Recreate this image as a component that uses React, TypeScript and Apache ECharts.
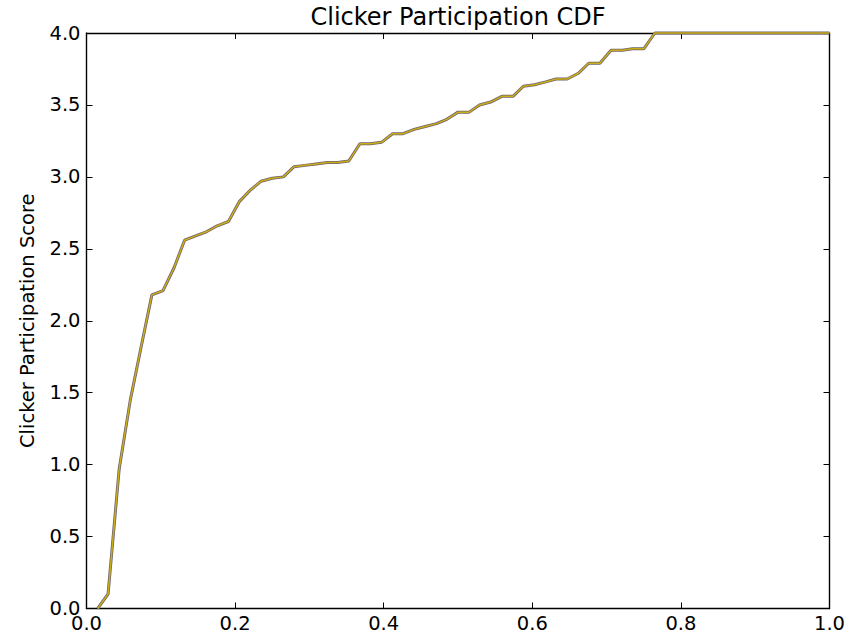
import React, { useEffect, useRef } from "react";
import * as echarts from "echarts";

const TITLE = "Clicker Participation CDF";
const Y_NAME = "Clicker Participation Score";

// fraction of students (x) and participation score (y)
const xValues = [
  0.015, 0.029, 0.044, 0.059, 0.074, 0.088, 0.103, 0.118, 0.132, 0.147,
  0.162, 0.176, 0.191, 0.206, 0.221, 0.235, 0.25, 0.265, 0.279, 0.294,
  0.309, 0.324, 0.338, 0.353, 0.368, 0.382, 0.397, 0.412, 0.426, 0.441,
  0.456, 0.471, 0.485, 0.5, 0.515, 0.529, 0.544, 0.559, 0.574, 0.588,
  0.603, 0.618, 0.632, 0.647, 0.662, 0.676, 0.691, 0.706, 0.721, 0.735,
  0.75, 0.765, 1.0,
];
const yValues = [
  0.0, 0.1, 0.97, 1.45, 1.83, 2.18, 2.21, 2.37, 2.56, 2.59,
  2.62, 2.66, 2.69, 2.83, 2.91, 2.97, 2.99, 3.0, 3.07, 3.08,
  3.09, 3.1, 3.1, 3.11, 3.23, 3.23, 3.24, 3.3, 3.3, 3.33,
  3.35, 3.37, 3.4, 3.45, 3.45, 3.5, 3.52, 3.56, 3.56, 3.63,
  3.64, 3.66, 3.68, 3.68, 3.72, 3.79, 3.79, 3.88, 3.88, 3.89,
  3.89, 4.0, 4.0,
];

const FONT = "DejaVu Sans";

export default function App() {
  const ref = useRef<HTMLDivElement>(null);
  useEffect(() => {
    if (!ref.current) return;
    const chart = echarts.init(ref.current, undefined, { renderer: "svg" });
    const data = xValues.map((x, i) => [x, yValues[i]]);
    const axisLine = { show: true, onZero: false, lineStyle: { color: "#000", width: 1.4 } };
    const axisTick = { show: true, inside: true, length: 6, lineStyle: { color: "#000", width: 1 } };
    const label = {
      color: "#000",
      fontSize: 19.5,
      fontFamily: FONT,
      formatter: (v: number) => v.toFixed(1),
      showMinLabel: true,
      showMaxLabel: true,
    };
    chart.setOption({
      animation: false,
      backgroundColor: "#fff",
      textStyle: { fontFamily: FONT },
      title: {
        text: TITLE,
        left: 458,
        top: 5,
        padding: 0,
        textAlign: "center",
        textStyle: { fontFamily: FONT, fontSize: 24, fontWeight: "normal", color: "#000" },
      },
      grid: { left: 86.5, right: 34.5, top: 33, bottom: 28.5, show: false },
      xAxis: [
        {
          type: "value", min: 0, max: 1, interval: 0.2, position: "bottom",
          axisLine, axisTick, splitLine: { show: false },
          axisLabel: { ...label, margin: 5 },
        },
        {
          type: "value", min: 0, max: 1, interval: 0.2, position: "top",
          axisLine, axisTick, splitLine: { show: false },
          axisLabel: { show: false },
        },
      ],
      yAxis: [
        {
          type: "value", min: 0, max: 4, interval: 0.5, position: "left",
          axisLine, axisTick, splitLine: { show: false },
          axisLabel: { ...label, margin: 6 },
          name: Y_NAME,
          nameLocation: "middle",
          nameGap: 49,
          nameTextStyle: { fontFamily: FONT, fontSize: 19.5, color: "#000" },
        },
        {
          type: "value", min: 0, max: 4, interval: 0.5, position: "right",
          axisLine, axisTick, splitLine: { show: false },
          axisLabel: { show: false },
        },
      ],
      series: [
        {
          type: "line", data, symbol: "none", clip: false, z: 3,
          lineStyle: { color: "#6c6270", width: 3 },
        },
        {
          type: "line", data, symbol: "none", clip: false, z: 4,
          lineStyle: { color: "#cbad16", width: 1.5 },
        },
      ],
    });
    return () => chart.dispose();
  }, []);
  return (
    <div
      ref={ref}
      style={{ position: "fixed", left: 0, top: 0, width: 864, height: 637 }}
    />
  );
}
